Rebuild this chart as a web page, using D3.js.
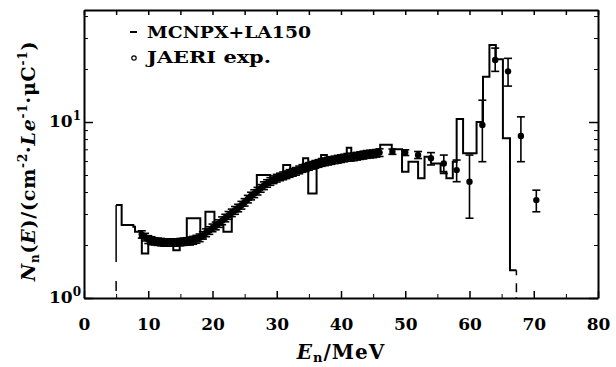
<!DOCTYPE html>
<html>
<head>
<meta charset="utf-8">
<script src="https://cdn.jsdelivr.net/npm/d3@7"></script>
<style>
  body { margin: 0; background: #fff; }
  svg { display: block; }
  text { font-family: "DejaVu Serif", "Liberation Serif", serif; fill: #000; }
</style>
</head>
<body>
<svg id="chart" width="616" height="367"></svg>
<script>
// MCNPX+LA150 histogram: bin edges (MeV) and bin contents
const histEdges = [5, 5.86, 7.68, 7.94, 8.7, 9.0, 10.0, 11.0, 12.0, 13.0, 13.9, 14.9, 16.0, 18.1, 18.9,
  20.3, 21.7, 23.0, 24.0, 25.0, 26.0, 26.9, 29.0, 30.0, 31.0, 32.1, 33.0, 34.1, 34.9, 36.2, 36.9,
  37.8, 39.0, 40.0, 40.9, 41.6, 42.6, 43.9, 45.0, 46.1, 47.9, 49.5, 50.5, 52.0, 53.0, 54.0, 55.5,
  56.4, 57.4, 58.0, 59.0, 61.1, 62.1, 63.1, 64.1, 65.2, 66.3, 67.3];
const histValues = [3.38, 2.6, 2.54, 2.38, 2.2, 1.79, 2.1, 2.05, 2.12, 2.06, 1.87, 2.08, 2.84, 2.2,
  3.09, 2.6, 2.38, 3.1, 3.35, 3.6, 3.9, 5.0, 4.55, 4.85, 5.7, 5.15, 5.3, 6.22, 3.93, 5.7, 6.49,
  5.95, 6.05, 6.2, 7.14, 6.4, 6.2, 6.5, 6.8, 7.42, 7.0, 5.21, 5.95, 4.79, 6.35, 5.82, 5.21,
  4.79, 5.95, 10.4, 6.64, 10.0, 18.1, 27.4, 22.7, 8.08, 1.44];

// JAERI experiment: energy, value and error-bar ends
const expEnergy = [9, 9.5, 10, 10.5, 11, 11.5, 12, 12.5, 13, 13.5, 14, 14.5, 15, 15.5, 16, 16.5, 17,
  17.5, 18, 18.5, 19, 19.5, 20, 20.5, 21, 21.5, 22, 22.5, 23, 23.5, 24, 24.5, 25, 25.5, 26, 26.5,
  27, 27.5, 28, 28.5, 29, 29.5, 30, 30.5, 31, 31.5, 32, 32.5, 33, 33.5, 34, 34.5, 35, 35.5, 36,
  36.5, 37, 37.5, 38, 38.5, 39, 39.5, 40, 40.5, 41, 41.5, 42, 42.5, 43, 43.5, 44, 44.5, 45, 45.5, 46,
  48, 50, 52, 54, 56, 58, 60, 62, 64, 66, 68, 70.4];
const expValue = [2.3, 2.22, 2.15, 2.12, 2.1, 2.09, 2.08, 2.07, 2.07, 2.07, 2.07, 2.07, 2.08, 2.09,
  2.1, 2.11, 2.13, 2.16, 2.2, 2.27, 2.35, 2.42, 2.5, 2.57, 2.65, 2.75, 2.85, 2.95, 3.05, 3.15, 3.25,
  3.37, 3.5, 3.65, 3.8, 3.92, 4.05, 4.2, 4.35, 4.48, 4.6, 4.7, 4.8, 4.88, 4.95, 5.02, 5.1, 5.18,
  5.25, 5.35, 5.45, 5.52, 5.6, 5.68, 5.75, 5.82, 5.9, 5.95, 6.0, 6.05, 6.1, 6.15, 6.2, 6.25, 6.3,
  6.32, 6.35, 6.4, 6.45, 6.5, 6.55, 6.58, 6.6, 6.65, 6.7,
  6.78, 6.7, 6.49, 6.22, 5.82, 5.33, 4.58, 9.63, 22.5, 19.4, 8.33, 3.6];
const expLow = [2.19, 2.11, 2.04, 2.01, 2.0, 1.99, 1.98, 1.97, 1.97, 1.97, 1.97, 1.97, 1.98, 1.99,
  2.0, 2.0, 2.02, 2.05, 2.09, 2.16, 2.23, 2.3, 2.38, 2.44, 2.52, 2.61, 2.71, 2.8, 2.9, 2.99, 3.09,
  3.2, 3.33, 3.47, 3.61, 3.72, 3.85, 3.99, 4.13, 4.26, 4.37, 4.47, 4.56, 4.64, 4.7, 4.77, 4.85,
  4.92, 4.99, 5.08, 5.18, 5.24, 5.32, 5.4, 5.46, 5.53, 5.6, 5.65, 5.7, 5.75, 5.8, 5.84, 5.89,
  5.94, 5.99, 6.0, 6.03, 6.08, 6.13, 6.18, 6.22, 6.25, 6.27, 6.32, 6.37,
  6.55, 6.45, 6.2, 5.7, 5.1, 4.58, 2.84, 5.95, 19.4, 16.0, 5.95, 3.09];
const expHigh = [2.41, 2.33, 2.26, 2.23, 2.2, 2.19, 2.18, 2.17, 2.17, 2.17, 2.17, 2.17, 2.18, 2.19,
  2.2, 2.22, 2.24, 2.27, 2.31, 2.38, 2.47, 2.54, 2.63, 2.7, 2.78, 2.89, 2.99, 3.1, 3.2, 3.31, 3.41,
  3.54, 3.67, 3.83, 3.99, 4.12, 4.25, 4.41, 4.57, 4.7, 4.83, 4.94, 5.04, 5.12, 5.2, 5.27, 5.36,
  5.44, 5.51, 5.62, 5.72, 5.8, 5.88, 5.96, 6.04, 6.11, 6.2, 6.25, 6.3, 6.35, 6.4, 6.46, 6.51,
  6.56, 6.62, 6.64, 6.67, 6.72, 6.77, 6.83, 6.88, 6.91, 6.93, 6.98, 7.04,
  7.02, 6.95, 6.8, 6.7, 6.49, 6.08, 6.49, 13.3, 26.3, 23.0, 10.7, 4.1];

const xTicks = [0, 10, 20, 30, 40, 50, 60, 70, 80];
const xMinorTicks = [5, 15, 25, 35, 45, 55, 65, 75];
const yTicks = [1, 10];
const yMinorTicks = [2, 3, 4, 5, 6, 7, 8, 9, 20, 30, 40];

const margin = { left: 84, right: 18, top: 10, bottom: 69 };
const width = 616, height = 367;

const svg = d3.select('#chart');
const x = d3.scaleLinear().domain([0, 80]).range([margin.left, width - margin.right]);
const y = d3.scaleLog().domain([1, 43.3]).range([height - margin.bottom, margin.top]);

const plot = svg.append('g');
plot.append('clipPath').attr('id', 'clip')
  .append('rect')
  .attr('x', x(0)).attr('y', y(43.3))
  .attr('width', x(80) - x(0)).attr('height', y(1) - y(43.3));

// histogram as a step line
const steps = [];
histValues.forEach((v, i) => {
  steps.push([histEdges[i], v]);
  steps.push([histEdges[i + 1], v]);
});
const line = d3.line().x(d => x(d[0])).y(d => y(d[1]));
plot.append('path')
  .attr('d', line(steps))
  .attr('fill', 'none')
  .attr('stroke', '#000')
  .attr('stroke-width', 2)
  .attr('stroke-linejoin', 'miter');

// leading and trailing edges of the histogram, printed broken in the original
plot.append('line')
  .attr('x1', x(histEdges[0])).attr('x2', x(histEdges[0]))
  .attr('y1', y(histValues[0])).attr('y2', y(1))
  .attr('stroke', '#000').attr('stroke-width', 1.5)
  .attr('stroke-dasharray', '57,19,10,20');
const lastE = histEdges[histEdges.length - 1];
plot.append('line')
  .attr('x1', x(lastE)).attr('x2', x(lastE))
  .attr('y1', y(histValues[histValues.length - 1])).attr('y2', y(1))
  .attr('stroke', '#000').attr('stroke-width', 1.5)
  .attr('stroke-dasharray', '5,8,9,5');

// experimental points with error bars
const exp = expEnergy.map((e, i) => ({ e, v: expValue[i], lo: expLow[i], hi: expHigh[i] }));
const pts = plot.append('g').attr('clip-path', 'url(#clip)');
pts.selectAll('line.err').data(exp).join('line')
  .attr('class', 'err')
  .attr('x1', d => x(d.e)).attr('x2', d => x(d.e))
  .attr('y1', d => y(d.lo)).attr('y2', d => y(d.hi))
  .attr('stroke', '#000').attr('stroke-width', 1.6);
pts.selectAll('line.caplo').data(exp).join('line')
  .attr('class', 'caplo')
  .attr('x1', d => x(d.e) - 4).attr('x2', d => x(d.e) + 4)
  .attr('y1', d => y(d.lo)).attr('y2', d => y(d.lo))
  .attr('stroke', '#000').attr('stroke-width', 1.6);
pts.selectAll('line.caphi').data(exp).join('line')
  .attr('class', 'caphi')
  .attr('x1', d => x(d.e) - 4).attr('x2', d => x(d.e) + 4)
  .attr('y1', d => y(d.hi)).attr('y2', d => y(d.hi))
  .attr('stroke', '#000').attr('stroke-width', 1.6);
pts.selectAll('circle').data(exp).join('circle')
  .attr('cx', d => x(d.e)).attr('cy', d => y(d.v))
  .attr('r', 3.2)
  .attr('fill', '#000');

// axes: ticks point inward on all four sides
const axisStyle = g => {
  g.select('.domain').attr('stroke-width', 2);
  g.selectAll('.tick line').attr('stroke-width', 1.5);
};
svg.append('g')
  .attr('transform', `translate(0,${y(1)})`)
  .call(d3.axisBottom(x).tickValues(xTicks).tickSizeInner(-7).tickSizeOuter(0).tickPadding(20))
  .call(axisStyle)
  .call(g => g.selectAll('.tick text')
    .attr('font-size', 17).attr('font-weight', 'bold')
    .attr('font-family', '"DejaVu Serif", serif'));
svg.append('g')
  .attr('transform', `translate(0,${y(1)})`)
  .call(d3.axisBottom(x).tickValues(xMinorTicks).tickSize(-4).tickFormat(''))
  .call(g => g.select('.domain').remove());
svg.append('g')
  .attr('transform', `translate(0,${y(43.3)})`)
  .call(d3.axisTop(x).tickValues(xTicks.concat(xMinorTicks)).tickSize(-5).tickSizeOuter(0).tickFormat(''))
  .call(axisStyle);

svg.append('g')
  .attr('transform', `translate(${x(0)},0)`)
  .call(d3.axisLeft(y).tickValues(yTicks).tickSizeInner(-9).tickSizeOuter(0).tickFormat(''))
  .call(axisStyle);
svg.append('g')
  .attr('transform', `translate(${x(0)},0)`)
  .call(d3.axisLeft(y).tickValues(yMinorTicks).tickSize(-4).tickFormat(''))
  .call(g => g.select('.domain').remove());
svg.append('g')
  .attr('transform', `translate(${x(80)},0)`)
  .call(d3.axisRight(y).tickValues(yTicks).tickSizeInner(-9).tickSizeOuter(0).tickFormat(''))
  .call(axisStyle);
svg.append('g')
  .attr('transform', `translate(${x(80)},0)`)
  .call(d3.axisRight(y).tickValues(yMinorTicks).tickSize(-4).tickFormat(''))
  .call(g => g.select('.domain').remove());

// y tick labels 10^0, 10^1
const yLab = svg.append('g');
yTicks.forEach(t => {
  const txt = yLab.append('text')
    .attr('x', x(0) - 3).attr('y', y(t) + 5)
    .attr('text-anchor', 'end')
    .attr('font-size', 17).attr('font-weight', 'bold');
  txt.append('tspan').text('10');
  txt.append('tspan').attr('dy', -7).attr('font-size', 12).text(Math.round(Math.log10(t)));
});

// legend
svg.append('line')
  .attr('x1', 130).attr('x2', 137).attr('y1', 32).attr('y2', 32)
  .attr('stroke', '#000').attr('stroke-width', 2);
svg.append('text').attr('x', 147).attr('y', 38)
  .attr('font-size', 17).attr('font-weight', 'bold')
  .attr('textLength', 164).attr('lengthAdjust', 'spacingAndGlyphs')
  .text('MCNPX+LA150');
svg.append('circle').attr('cx', 134).attr('cy', 58).attr('r', 2.2)
  .attr('fill', 'none').attr('stroke', '#000').attr('stroke-width', 1.2);
svg.append('text').attr('x', 147).attr('y', 63)
  .attr('font-size', 16).attr('font-weight', 'bold')
  .attr('textLength', 124).attr('lengthAdjust', 'spacingAndGlyphs')
  .text('JAERI exp.');

// x axis title
const xt = svg.append('text')
  .attr('x', (x(0) + x(80)) / 2).attr('y', 359)
  .attr('text-anchor', 'middle')
  .attr('font-size', 20).attr('font-weight', 'bold')
  .attr('letter-spacing', 1);
xt.append('tspan').attr('font-style', 'italic').text('E');
xt.append('tspan').attr('font-size', 13).attr('dy', 3).text('n');
xt.append('tspan').attr('dy', -3).text('/MeV');

// y axis title
const yt = svg.append('text')
  .attr('transform', `translate(35,${(y(1) + y(43.3)) / 2 + 7}) rotate(-90)`)
  .attr('text-anchor', 'middle')
  .attr('font-size', 19).attr('font-weight', 'bold')
  .attr('letter-spacing', 0.8);
yt.append('tspan').attr('font-style', 'italic').text('N');
yt.append('tspan').attr('font-size', 12).attr('dy', 4).text('n');
yt.append('tspan').attr('dy', -4).text('(');
yt.append('tspan').attr('font-style', 'italic').text('E');
yt.append('tspan').text(')/(cm');
yt.append('tspan').attr('font-size', 12).attr('dy', -8).text('-2');
yt.append('tspan').attr('dy', 8).text('·');
yt.append('tspan').attr('font-style', 'italic').text('Le');
yt.append('tspan').attr('font-size', 12).attr('dy', -8).text('-1');
yt.append('tspan').attr('dy', 8).text('·μC');
yt.append('tspan').attr('font-size', 12).attr('dy', -8).text('-1');
yt.append('tspan').attr('dy', 8).text(')');
</script>
</body>
</html>
